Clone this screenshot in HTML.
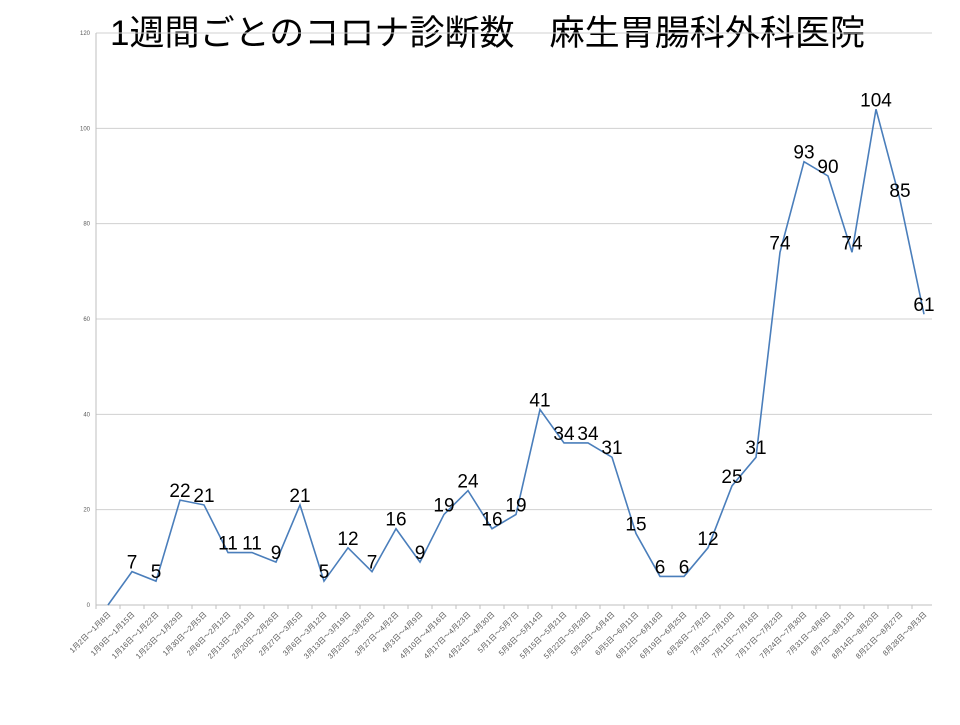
<!DOCTYPE html>
<html><head><meta charset="utf-8"><style>
body{margin:0;background:#fff;}
svg text{font-family:"Liberation Sans","Noto Sans CJK JP",sans-serif;}
</style></head><body>
<svg id="chart" width="960" height="720" viewBox="0 0 960 720" xmlns="http://www.w3.org/2000/svg">
<text x="110" y="45" font-size="35" fill="#000" textLength="755" lengthAdjust="spacingAndGlyphs">1週間ごとのコロナ診断数　麻生胃腸科外科医院</text>
<g id="grid"></g><g id="yticks"></g><g id="xticks"></g><g id="series"></g><g id="labels"></g>
</svg>
<script>
const categories=["1月2日～1月8日","1月9日～1月15日","1月16日～1月22日","1月23日～1月29日","1月30日～2月5日","2月6日～2月12日","2月13日～2月19日","2月20日～2月26日","2月27日～3月5日","3月6日～3月12日","3月13日～3月19日","3月20日～3月26日","3月27日～4月2日","4月3日～4月9日","4月10日～4月16日","4月17日～4月23日","4月24日～4月30日","5月1日～5月7日","5月8日～5月14日","5月15日～5月21日","5月22日～5月28日","5月29日～6月4日","6月5日～6月11日","6月12日～6月18日","6月19日～6月25日","6月26日～7月2日","7月3日～7月10日","7月11日～7月16日","7月17日～7月23日","7月24日～7月30日","7月31日～8月6日","8月7日～8月13日","8月14日～8月20日","8月21日～8月27日","8月28日～9月3日"];
const values=[0,7,5,22,21,11,11,9,21,5,12,7,16,9,19,24,16,19,41,34,34,31,15,6,6,12,25,31,74,93,90,74,104,85,61];
const yTicks=[0,20,40,60,80,100,120];
const NS="http://www.w3.org/2000/svg";
const x0=96,x1=932,y0=605,y1=33,yMax=120;
const bw=24;
const xs=i=>x0+bw*(i+0.5);
const ys=v=>y0-(v/yMax)*(y0-y1);
function mk(tag,attrs,parent){const e=document.createElementNS(NS,tag);for(const k in attrs)e.setAttribute(k,attrs[k]);parent.appendChild(e);return e;}
const grid=document.getElementById('grid'),yt=document.getElementById('yticks'),xt=document.getElementById('xticks'),ser=document.getElementById('series'),lab=document.getElementById('labels');
yTicks.forEach(t=>{
  const l=mk('line',{x1:x0,x2:x1,y1:ys(t),y2:ys(t),stroke:t===0?'#bfbfbf':'#d0d0d0','stroke-width':1},grid);
  
  
  const tx=mk('text',{x:x0-6,y:ys(t)+2,'font-size':6,'text-anchor':'end',fill:'#595959'},yt);
  tx.textContent=t;
  
  
});
const ax=mk('line',{x1:x0,x2:x0,y1:y1,y2:y0,stroke:'#bfbfbf'},grid);


categories.forEach((c,i)=>{
  const tk=mk('line',{x1:x0+bw*i,x2:x0+bw*i,y1:y0,y2:y0+4,stroke:'#bfbfbf'},xt);
  
  
  const x=xs(i)+3,y=y0+10;
  const t=mk('text',{x:x,y:y,'font-size':7.5,'text-anchor':'end',fill:'#595959',transform:`rotate(-45 ${x} ${y})`},xt);
  t.textContent=c;
  
  
});
const pts=values.map((v,i)=>xs(i)+','+ys(v)).join(' ');
const pl=mk('polyline',{points:pts,fill:'none',stroke:'#4a7ebb','stroke-width':1.6},ser);


values.forEach((v,i)=>{
  if(v===0) return;
  const t=mk('text',{x:xs(i),y:ys(v)-3,'font-size':19,'text-anchor':'middle',fill:'#000'},lab);
  t.textContent=v;
  
  
});
</script>
</body></html>
